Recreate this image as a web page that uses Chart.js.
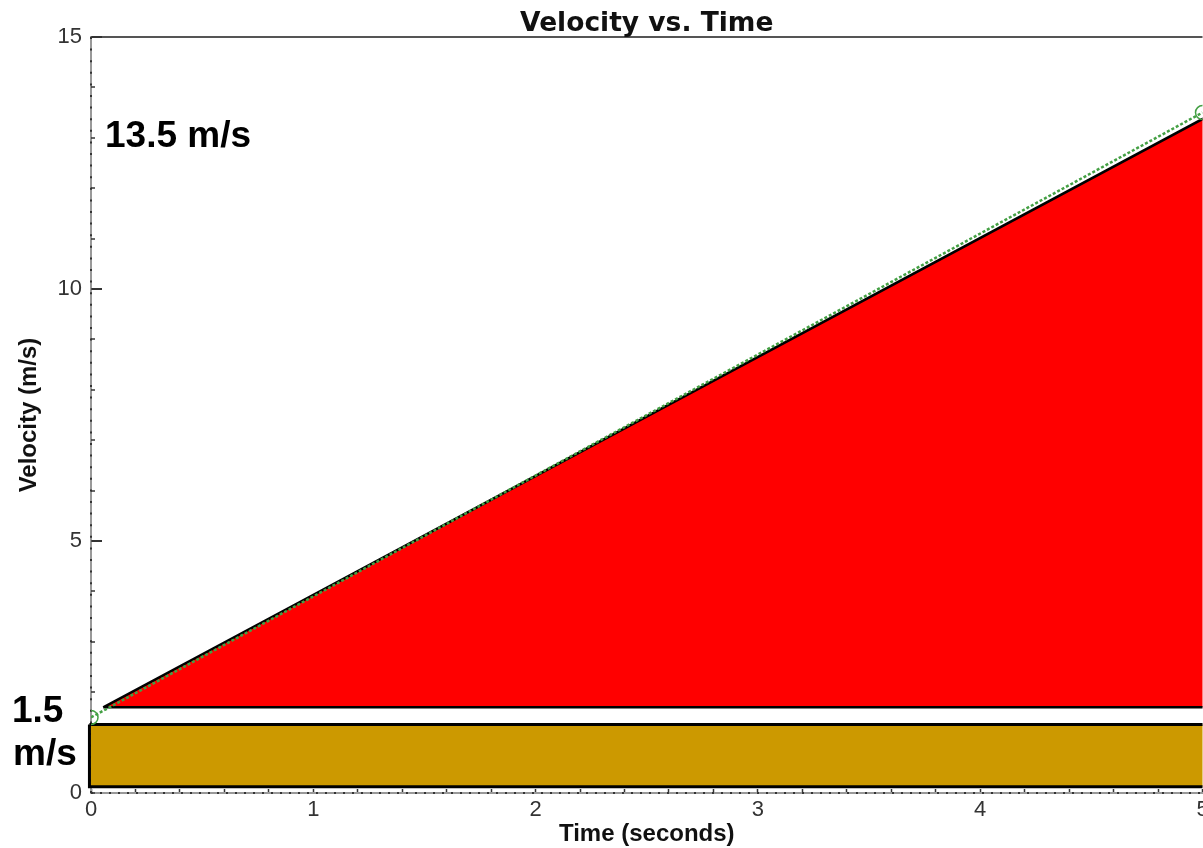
<!DOCTYPE html>
<html>
<head>
<meta charset="utf-8">
<title>Velocity vs. Time</title>
<script src="https://cdn.jsdelivr.net/npm/chart.js@4.4.1/dist/chart.umd.min.js"></script>
<style>
    html, body { margin: 0; padding: 0; background: #fff; overflow: hidden; }
    #wrap { position: relative; width: 1211px; height: 848px; }
</style>
</head>
<body>
<div id="wrap"><canvas id="velocityChart"></canvas></div>
<script>
// --- data ---
const timeRange = [0, 5];
const velocityRange = [0, 15];
const xTickLabels = ['0', '1', '2', '3', '4', '5'];
const yTickLabels = ['0', '5', '10', '15'];

// measured velocity line (green, with end markers)
const lineTimes = [0, 5];
const lineVelocities = [1.5, 13.5];

// red triangle (change in velocity)
const triangleTimes = [0.055, 5.02, 5.02, 0.055];
const triangleVelocities = [1.7, 13.42, 1.7, 1.7];

// gold rectangle (initial velocity)
const rectTimes = [-0.007, 5.02, 5.02, -0.007, -0.007];
const rectVelocities = [1.36, 1.36, 0.125, 0.125, 1.36];

const toPoints = (xs, ys) => xs.map((x, i) => ({ x: x, y: ys[i] }));

// text labels drawn on top of the plot
const annotationText = {
    id: 'annotationText',
    afterDraw(chart) {
        const c = chart.ctx;
        c.save();
        c.fillStyle = '#000';
        c.font = 'bold 37px "Liberation Sans", Arial, sans-serif';
        c.textBaseline = 'alphabetic';
        c.textAlign = 'left';
        c.fillText('13.5 m/s', 105, 147);
        c.fillText('1.5', 12, 722);
        c.fillText('m/s', 13, 765);
        c.restore();
    }
};

const tickFont = { family: '"Liberation Sans", Arial, sans-serif', size: 22 };
const titleFont = { family: '"Liberation Sans", Arial, sans-serif', size: 24, weight: 'bold', lineHeight: 1 };
const clear = 'rgba(0,0,0,0)';

new Chart(document.getElementById('velocityChart'), {
    type: 'scatter',
    data: {
        datasets: [
            {
                label: 'velocity',
                data: toPoints(lineTimes, lineVelocities),
                showLine: true,
                borderColor: '#44a044',
                borderWidth: 2.5,
                borderDash: [3, 2],
                pointRadius: 7,
                pointBorderWidth: 1.5,
                pointBorderColor: '#44a044',
                pointBackgroundColor: clear,
                tension: 0,
                order: 0
            },
            {
                label: 'triangle',
                data: toPoints(triangleTimes, triangleVelocities),
                showLine: true,
                fill: 'shape',
                backgroundColor: '#ff0000',
                borderColor: '#000',
                borderWidth: 2.5,
                borderJoinStyle: 'miter',
                pointRadius: 0,
                tension: 0,
                order: 1
            },
            {
                label: 'rectangle',
                data: toPoints(rectTimes, rectVelocities),
                showLine: true,
                fill: 'shape',
                backgroundColor: '#cc9900',
                borderColor: '#000',
                borderWidth: 3,
                borderJoinStyle: 'miter',
                pointRadius: 0,
                tension: 0,
                clip: { left: 5, top: 5, right: 0, bottom: 5 },
                order: 2
            }
        ]
    },
    options: {
        responsive: true,
        maintainAspectRatio: false,
        animation: false,
        layout: { padding: 0 },
        plugins: {
            legend: { display: false },
            tooltip: { enabled: false },
            title: {
                display: true,
                text: 'Velocity vs. Time',
                fullSize: false,
                color: '#111',
                font: { family: '"DejaVu Sans", Verdana, sans-serif', size: 26.5, weight: 'bold', lineHeight: 1 },
                padding: { top: 10.5, bottom: 0 }
            }
        },
        scales: {
            x: {
                type: 'linear',
                position: 'bottom',
                weight: 1,
                min: timeRange[0],
                max: timeRange[1],
                afterFit: (s) => { s.height = 55; s.paddingLeft = 0; s.paddingRight = 0; },
                border: { display: true, color: '#999', width: 2, z: -0.7 },
                grid: {
                    drawOnChartArea: false,
                    tickColor: '#333',
                    tickWidth: 1.5,
                    tickLength: -4
                },
                ticks: {
                    stepSize: 0.2,
                    padding: 8,
                    color: '#333',
                    font: tickFont,
                    maxRotation: 0,
                    autoSkip: false,
                    callback: (v) => {
                        const r = Math.round(v);
                        return Math.abs(v - r) < 1e-6 ? xTickLabels[r] : '';
                    }
                },
                title: {
                    display: true,
                    text: 'Time (seconds)',
                    color: '#111',
                    font: titleFont,
                    padding: { top: 0, bottom: 1.5 }
                }
            },
            // hidden helper axis: dotted line running along the y axis
            xMinor: {
                type: 'linear',
                position: 'bottom',
                weight: 0,
                min: timeRange[0],
                max: timeRange[1],
                afterFit: (s) => { s.height = 0; s.paddingLeft = 0; s.paddingRight = 0; },
                border: { display: false, dash: [2, 9.6] },
                grid: {
                    z: -0.5,
                    drawTicks: false,
                    lineWidth: 2,
                    color: (ctx) => (ctx.tick && ctx.tick.value === timeRange[0] ? '#333' : clear)
                },
                ticks: { display: false, stepSize: 1 }
            },
            y: {
                type: 'linear',
                position: 'left',
                weight: 1,
                min: velocityRange[0],
                max: velocityRange[1],
                afterFit: (s) => { s.width = 91; s.paddingTop = 0; s.paddingBottom = 0; },
                border: { display: true, color: '#999', width: 2, z: -0.7 },
                grid: {
                    drawOnChartArea: true,
                    // solid frame line along the top of the plot
                    color: (ctx) => (ctx.tick && ctx.tick.value === velocityRange[1] ? '#555' : clear),
                    lineWidth: 2,
                    tickColor: '#333',
                    tickWidth: 2,
                    tickLength: -11
                },
                ticks: {
                    stepSize: 5,
                    padding: 20,
                    color: '#333',
                    font: tickFont,
                    callback: (v) => {
                        const i = Math.round(v / 5);
                        return yTickLabels[i] !== undefined ? yTickLabels[i] : '';
                    }
                },
                title: {
                    display: true,
                    text: 'Velocity (m/s)',
                    color: '#111',
                    font: titleFont,
                    padding: { top: 17, bottom: 0 }
                }
            },
            // hidden helper axis: unit ticks and dotted line along the x axis
            yMinor: {
                type: 'linear',
                position: 'left',
                weight: 0,
                min: velocityRange[0],
                max: velocityRange[1],
                afterFit: (s) => { s.width = 0; s.paddingTop = 0; s.paddingBottom = 0; },
                border: { display: false, dash: [2, 7] },
                grid: {
                    z: -0.5,
                    drawOnChartArea: true,
                    color: (ctx) => (ctx.tick && ctx.tick.value === velocityRange[0] ? '#333' : clear),
                    lineWidth: 2,
                    tickColor: '#333',
                    tickWidth: 1.5,
                    tickLength: -4,
                    tickBorderDash: []
                },
                ticks: { display: false, stepSize: 1 }
            }
        }
    },
    plugins: [annotationText]
});
</script>
</body>
</html>
